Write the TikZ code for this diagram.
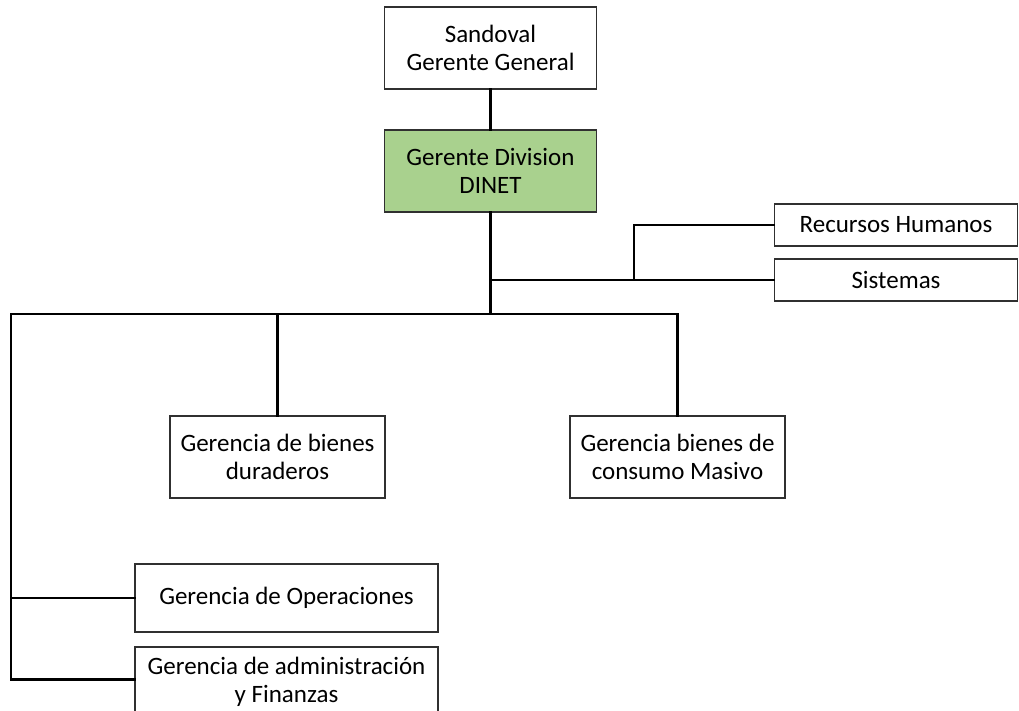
\documentclass[tikz,border=0pt]{standalone}
\usepackage{fontspec}
\setmainfont{Carlito}
\definecolor{boxgreen}{HTML}{A9D18E}
\definecolor{boxline}{HTML}{303030}
\tikzset{
  orgbox/.style={draw=boxline, line width=1.5pt, fill=white, rectangle, align=center,
    inner sep=2pt, font=\fontsize{25}{28}\selectfont, text=black},
  conn/.style={draw=black, line width=2.8pt, line cap=rect}
}
\begin{document}
\begin{tikzpicture}[x=1pt,y=-1pt]
\useasboundingbox (0,0) rectangle (1019,710);
\fill[white] (0,0) rectangle (1019,710);
% nodes
\node[orgbox, minimum width=212pt, minimum height=82pt] (San) at (490.5,48) {Sandoval\\Gerente General};
\node[orgbox, fill=boxgreen, minimum width=212pt, minimum height=82pt] (Din) at (490.5,171) {Gerente Division\\DINET};
\node[orgbox, minimum width=243pt, minimum height=42pt] (RH) at (896,225) {Recursos Humanos};
\node[orgbox, minimum width=243pt, minimum height=42pt] (Sis) at (896,280) {Sistemas};
\node[orgbox, minimum width=215pt, minimum height=82pt] (Dur) at (277.5,457) {Gerencia de bienes\\duraderos};
\node[orgbox, minimum width=215pt, minimum height=82pt] (Con) at (677.5,457) {Gerencia bienes de\\consumo Masivo};
\node[orgbox, minimum width=303pt, minimum height=68pt] (Ops) at (286.5,598) {Gerencia de Operaciones};
\node[orgbox, minimum width=303pt, minimum height=70pt, anchor=north] (Adm) at (286.5,646) {Gerencia de administración\\y Finanzas};
% junction coordinates
\coordinate (bl) at (11,314);
\coordinate (bk) at (634,280);
\coordinate (aj) at ([yshift=2pt]Adm.west);
% connectors
\draw[conn] (San.south) -- (Din.north);
\draw[conn] (Din.south) -- (Din.south |- bl);
\draw[conn] (bl) -- (Con.north |- bl) -- (Con.north);
\draw[conn] (Dur.north |- bl) -- (Dur.north);
\draw[conn] (Din.south |- Sis.west) -- (Sis.west);
\draw[conn] (bk) |- (RH.west);
\draw[conn] (bl) |- (Ops.west);
\draw[conn] (bl) |- (aj);
\end{tikzpicture}
\end{document}
